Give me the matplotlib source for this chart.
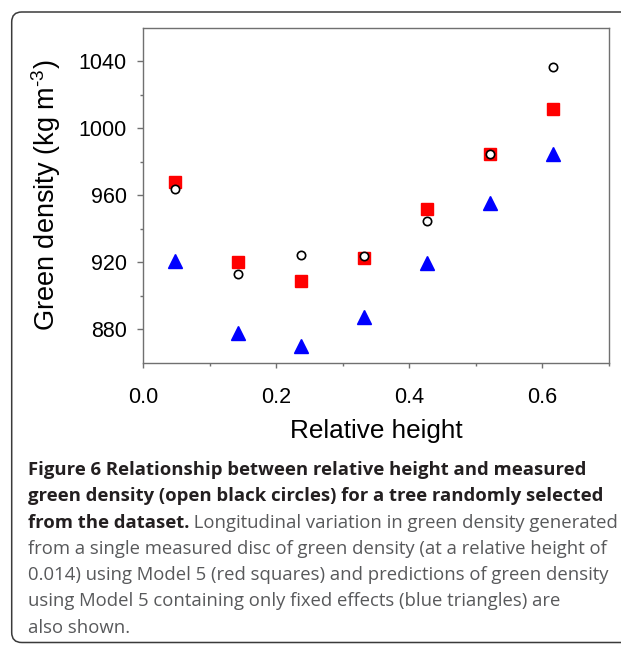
import matplotlib
matplotlib.use("Agg")
import matplotlib.pyplot as plt
from matplotlib.patches import FancyBboxPatch
from matplotlib.transforms import IdentityTransform

# values
rel_height = [0.048, 0.143, 0.237, 0.332, 0.427, 0.521, 0.616]
measured = [963.6, 913.2, 924.2, 923.8, 944.8, 984.7, 1036.4]
model5 = [967.9, 920.4, 908.8, 922.8, 951.6, 984.7, 1011.5]
fixed_only = [920.8, 878.0, 870.2, 887.5, 919.4, 955.6, 984.7]

xticks = [0.0, 0.2, 0.4, 0.6]
yticks = [880, 920, 960, 1000, 1040]

caption_bold = ["Figure 6 Relationship between relative height and measured",
                "green density (open black circles) for a tree randomly selected",
                "from the dataset."]
caption_rest = [" Longitudinal variation in green density generated",
                "from a single measured disc of green density (at a relative height of",
                "0.014) using Model 5 (red squares) and predictions of green density",
                "using Model 5 containing only fixed effects (blue triangles) are",
                "also shown."]

plt.rcParams['font.family'] = ['Liberation Sans', 'DejaVu Sans']
plt.rcParams['mathtext.fontset'] = 'custom'
plt.rcParams['mathtext.rm'] = 'Liberation Sans'
plt.rcParams['mathtext.it'] = 'Liberation Sans:italic'
plt.rcParams['mathtext.bf'] = 'Liberation Sans:bold'

fig = plt.figure(figsize=(6.21, 6.45), dpi=100)
ax = fig.add_axes([0.2308, 0.4377, 0.7492, 0.5189])

ax.plot(rel_height, fixed_only, ls='none', marker='^', ms=9.5, color='#0000ff', mec='#0000ff', zorder=3)
ax.plot(rel_height, model5, ls='none', marker='s', ms=8.5, color='#ff0000', mec='#ff0000', zorder=4)
ax.plot(rel_height, measured, ls='none', marker='o', ms=6, mfc='white', mec='black', mew=1.2, zorder=5)

ax.set_xlim(0, 0.7)
ax.set_ylim(860, 1060)
ax.set_xticks(xticks)
ax.set_xticks([0.1, 0.3, 0.5, 0.7], minor=True)
ax.set_xticklabels(["%.1f" % v for v in xticks])
ax.set_yticks(yticks)
ax.set_yticks([900, 940, 980, 1020], minor=True)
ax.set_yticklabels([str(v) for v in yticks])

gray = '#707070'
for s in ax.spines.values():
    s.set_color(gray)
    s.set_linewidth(1.0)
ax.tick_params(axis='both', which='major', direction='out', color=gray, width=1.0, labelsize=15.5)
ax.tick_params(axis='y', which='major', length=4.5, pad=7.5)
ax.tick_params(axis='x', which='major', length=3.5, pad=14)
ax.tick_params(axis='both', which='minor', direction='out', color=gray, width=1.0, length=2.5)

ax.set_xlabel("Relative height", fontsize=18.8, labelpad=8)
ax.set_ylabel(r"Green density (kg m$^{\text{-3}}$)", fontsize=19.5, labelpad=11)

# outer box around figure + caption
box = FancyBboxPatch((11.7, 2.5), 700, 630.5, boxstyle="round,pad=0,rounding_size=10",
                     transform=IdentityTransform(), fill=False, ec='#3a3a3a', lw=1.1)
fig.patches.append(box)

cap_font = ['Open Sans', 'DejaVu Sans']
cap_size = 13.3
x0 = 27.5 / 621
y_first = 1 - 475 / 645
step = 26.3 / 645
for i, line in enumerate(caption_bold):
    t = fig.text(x0, y_first - i * step, line, family=cap_font, weight='bold',
                 fontsize=cap_size, color='#231f20', va='baseline')
last_bold = t
fig.canvas.draw()
bb = last_bold.get_window_extent()
# continuation right after the bold part
fig.text(bb.x1 / 621, y_first - 2 * step, caption_rest[0], family=cap_font,
         fontsize=cap_size, color='#58595b', va='baseline')
for j, line in enumerate(caption_rest[1:]):
    fig.text(x0, y_first - (3 + j) * step, line, family=cap_font, fontsize=cap_size,
             color='#58595b', va='baseline')

fig.savefig("out.png", dpi=100)
